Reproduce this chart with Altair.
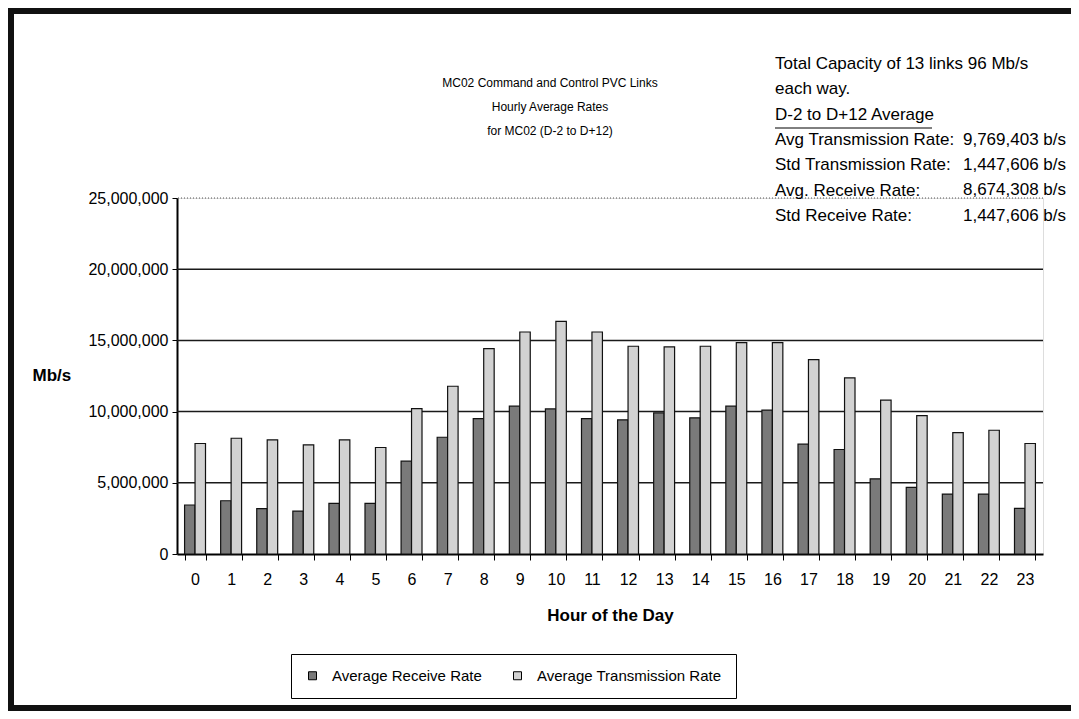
import altair as alt
import pandas as pd

# ---------------- data ----------------
hour_labels = [str(h) for h in range(24)]
receive_rate = [3440000, 3740000, 3180000, 3010000, 3550000, 3550000, 6520000, 8200000,
                9510000, 10380000, 10190000, 9510000, 9420000, 9910000, 9560000, 10380000,
                10100000, 7710000, 7340000, 5280000, 4680000, 4210000, 4210000, 3200000]
transmission_rate = [7760000, 8130000, 8020000, 7670000, 8020000, 7480000, 10210000, 11780000,
                     14420000, 15590000, 16340000, 15590000, 14590000, 14540000, 14590000, 14840000,
                     14840000, 13650000, 12370000, 10800000, 9720000, 8530000, 8690000, 7760000]
series_names = ["Average Receive Rate", "Average Transmission Rate"]
y_ticks = [0, 5000000, 10000000, 15000000, 20000000, 25000000]
solid_grid = [5000000, 10000000, 15000000, 20000000]
dotted_grid = [25000000]

title_lines = ["MC02 Command and Control PVC Links", "Hourly Average Rates",
               "for MC02 (D-2 to D+12)"]
note_labels = ["Total Capacity of 13 links  96 Mb/s", "each way.", "D-2 to D+12 Average",
               "Avg Transmission Rate:", "Std  Transmission Rate:", "Avg. Receive Rate:",
               "Std  Receive Rate:"]
note_values = ["9,769,403 b/s", "1,447,606 b/s", "8,674,308 b/s", "1,447,606 b/s"]

FONT = "Liberation Sans"

rows = []
for h, r, t in zip(hour_labels, receive_rate, transmission_rate):
    rows.append({"hour": h, "series": series_names[0], "value": r})
    rows.append({"hour": h, "series": series_names[1], "value": t})
df = pd.DataFrame(rows)

one = pd.DataFrame({"k": [0]})

# ---------------- layers ----------------
# outer frame: top, left and bottom edges (the right edge runs off the picture)
frame_top = alt.Chart(one).mark_rule(color="#111111", strokeWidth=6).encode(
    x=alt.value(-169), x2=alt.value(1000), y=alt.value(-187)
)
frame_left = alt.Chart(one).mark_rule(color="#111111", strokeWidth=6).encode(
    x=alt.value(-166), y=alt.value(-190), y2=alt.value(513)
)
frame_bottom = alt.Chart(one).mark_rule(color="#111111", strokeWidth=6).encode(
    x=alt.value(-169), x2=alt.value(1000), y=alt.value(510)
)

grid = alt.Chart(pd.DataFrame({"g": solid_grid})).mark_rule(color="#1a1a1a", strokeWidth=1.5).encode(
    y=alt.Y("g:Q")
)
grid_top = alt.Chart(pd.DataFrame({"g": dotted_grid})).mark_rule(
    color="#555555", strokeWidth=1, strokeDash=[1, 2]
).encode(y=alt.Y("g:Q"))

bars = alt.Chart(df).mark_bar(stroke="#111111", strokeWidth=1.2).encode(
    x=alt.X(
        "hour:N",
        sort=hour_labels,
        scale=alt.Scale(paddingInner=0.42, paddingOuter=0.21),
        axis=alt.Axis(
            labelAngle=0, tickBand="extent", tickSize=6, tickColor="black",
            domainColor="black", domainWidth=2, labelFontSize=16, labelPadding=11,
            labelColor="black", labelFont=FONT,
            title="Hour of the Day", titleFontSize=17, titleFontWeight="bold",
            titleFont=FONT, titleColor="black", titleY=61, titleBaseline="middle",
            grid=False,
        ),
    ),
    xOffset=alt.XOffset("series:N", sort=series_names),
    y=alt.Y(
        "value:Q",
        scale=alt.Scale(domain=[0, 25000000], nice=False),
        axis=alt.Axis(
            values=y_ticks, format=",d", grid=False, domainColor="black", domainWidth=2,
            tickColor="black", tickSize=5, labelPadding=4, labelFontSize=16,
            labelColor="black", labelFont=FONT,
            title="Mb/s", titleAngle=0, titleX=-145, titleY=177, titleAlign="left",
            titleBaseline="middle", titleFontSize=17, titleFontWeight="bold",
            titleFont=FONT, titleColor="black",
        ),
    ),
    color=alt.Color(
        "series:N",
        sort=series_names,
        scale=alt.Scale(domain=series_names, range=["#7a7a7a", "#d2d2d2"]),
        legend=alt.Legend(
            orient="none", legendX=114, legendY=456, direction="horizontal", title=None,
            strokeColor="black", padding=14, columnPadding=28, symbolType="square",
            symbolSize=64, symbolStrokeColor="black", symbolStrokeWidth=1,
            labelOffset=12, labelFontSize=15, labelFont=FONT, labelColor="black",
            labelLimit=300, fillColor="white",
        ),
    ),
)

title_text = alt.Chart(pd.DataFrame({"t": ["\n".join(title_lines)]})).mark_text(
    font=FONT, fontSize=12, align="center", baseline="top", lineBreak="\n",
    lineHeight=24, color="black"
).encode(text="t:N", x=alt.value(373), y=alt.value(-120))

note_text = alt.Chart(pd.DataFrame({"t": ["\n".join(note_labels)]})).mark_text(
    font=FONT, fontSize=17, align="left", baseline="top", lineBreak="\n",
    lineHeight=25.3, color="black"
).encode(text="t:N", x=alt.value(598), y=alt.value(-142))

value_text = alt.Chart(pd.DataFrame({"t": ["\n".join(note_values)]})).mark_text(
    font=FONT, fontSize=17, align="right", baseline="top", lineBreak="\n",
    lineHeight=25.3, color="black"
).encode(text="t:N", x=alt.value(889), y=alt.value(-66.1))

underline = alt.Chart(one).mark_rule(color="black", strokeWidth=1).encode(
    x=alt.value(598), x2=alt.value(755), y=alt.value(-70)
)

chart = alt.layer(
    frame_top, frame_left, frame_bottom, grid, grid_top, bars,
    title_text, note_text, value_text, underline
).properties(
    width=866,
    height=356,
    autosize=alt.AutoSizeParams(type="none"),
    padding={"left": 169, "top": 190, "right": 28, "bottom": 157},
).configure_view(stroke=None).configure(background="white")

chart.save("out.html", embed_options={"renderer": "svg", "actions": False})
